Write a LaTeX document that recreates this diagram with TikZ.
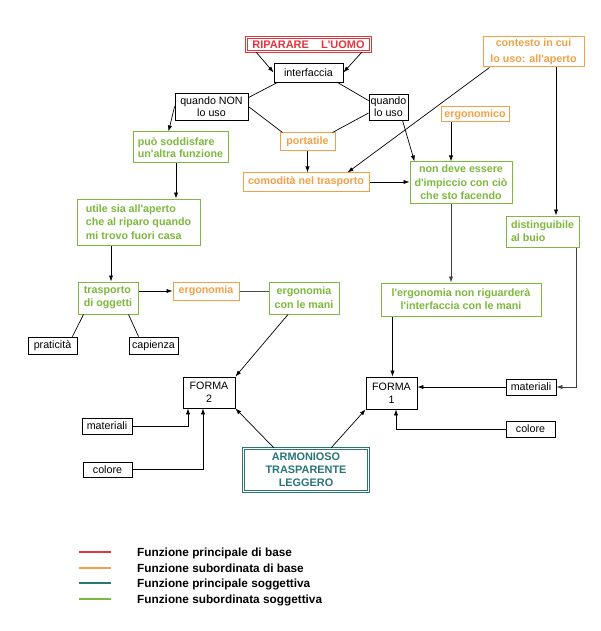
\documentclass[tikz,border=0pt]{standalone}
\usepackage{fontspec}
\setmainfont[Ligatures=TeXOff]{Liberation Sans}
\usetikzlibrary{arrows.meta,calc}
\definecolor{cred}{RGB}{228,52,62}
\definecolor{corange}{RGB}{245,160,70}
\definecolor{cgreen}{RGB}{125,185,60}
\definecolor{cteal}{RGB}{40,118,118}
\begin{document}
\begin{tikzpicture}[x=1pt,y=-1pt,
  bw/.style 2 args={minimum width=#1, minimum height=#2},
  kbox/.style={draw, line width=0.8pt, inner sep=1pt, align=center, font=\fontsize{10.7}{13}\selectfont},
  obox/.style={kbox, draw=corange, text=corange, line width=1pt, font=\fontsize{10.7}{13}\selectfont\bfseries},
  gbox/.style={kbox, draw=cgreen, text=cgreen, line width=1pt, font=\fontsize{10.7}{13}\selectfont\bfseries},
  rbox/.style={draw=cred, text=cred, double=white, double distance=1.4pt, line width=0.6pt, inner sep=1pt, font=\fontsize{11}{13}\selectfont\bfseries},
  tbox/.style={draw=cteal, text=cteal, double=white, double distance=1.4pt, line width=0.6pt, inner sep=1pt, align=center, font=\fontsize{10.9}{13}\selectfont\bfseries},
  ln/.style={line width=0.7pt},
  arr/.style={ln, -{Latex[length=6pt,width=4.2pt]}},
  legtxt/.style={anchor=west, inner sep=0pt, font=\fontsize{11.8}{13}\selectfont\bfseries},
  legline/.style={line width=2.2pt}
]
\useasboundingbox[fill=white] (0,0) rectangle (600,631);

% nodes
\node[rbox, bw={124.4}{14.4}] (rip) at (308.5,44.5) {RIPARARE\hspace{1.1em}L'UOMO};
\node[kbox, bw={69}{19}] (inter) at (308.5,72.5) {interfaccia};
\node[kbox, bw={73}{27}, font=\fontsize{10.7}{12}\selectfont] (qn) at (211.5,106.5) {quando NON\\lo uso};
\node[kbox, bw={39}{26}, font=\fontsize{10.7}{12}\selectfont] (qs) at (388.5,107) {quando\\lo uso};
\node[obox, bw={101}{30}, font=\fontsize{10.7}{16}\selectfont\bfseries] (cont) at (533.5,52) {contesto in cui\\lo uso: all'aperto};
\node[obox, bw={68}{15}] (ergc) at (475,114.5) {ergonomico};
\node[gbox, bw={95}{31}, align=left, font=\fontsize{10.7}{12.3}\selectfont\bfseries] (puo) at (180.5,147.5) {può soddisfare\\un'altra funzione};
\node[obox, bw={55}{18}] (port) at (307.5,142) {portatile};
\node[obox, bw={126}{18}] (com) at (306,182) {comodità nel trasporto};
\node[gbox, bw={102}{41}, font=\fontsize{10.7}{13.5}\selectfont\bfseries] (nond) at (461,182.5) {non deve essere\\d'impiccio con ciò\\che sto facendo};
\node[gbox, bw={73}{31}, align=left] (dist) at (542.5,231.5) {distinguibile\\al buio};
\node[gbox, bw={160}{33}] (lerg) at (461,299.5) {l'ergonomia non riguarderà\\l'interfaccia con le mani};
\node[gbox, bw={123}{46}, align=left, font=\fontsize{10.7}{13.5}\selectfont\bfseries] (utile) at (138.5,222) {utile sia all'aperto\\che al riparo quando\\mi trovo fuori casa};
\node[gbox, bw={60}{32}, align=left] (trasp) at (108,298) {trasporto\\di oggetti};
\node[obox, bw={66}{18}] (ergn) at (206,291) {ergonomia};
\node[gbox, bw={70}{32}, font=\fontsize{10.7}{14}\selectfont\bfseries] (ergm) at (304,298) {ergonomia\\con le mani};
\node[kbox, bw={49}{17}] (prat) at (52.5,345.5) {praticità};
\node[kbox, bw={49}{17}] (cap) at (153.5,345.5) {capienza};
\node[kbox, bw={52}{31}] (f2) at (209,392.5) {FORMA\\2};
\node[kbox, bw={51}{32}] (f1) at (391.5,393) {FORMA\\1};
\node[kbox, bw={50}{16}] (matL) at (107,426) {materiali};
\node[kbox, bw={49}{15}] (colL) at (107.5,469.5) {colore};
\node[kbox, bw={50}{16}] (matR) at (531,387) {materiali};
\node[kbox, bw={49}{16}] (colR) at (530.5,429) {colore};
\node[tbox, bw={125.4}{43.4}] (armo) at (306,470) {ARMONIOSO\\TRASPARENTE\\LEGGERO};

% connectors
\draw[arr] ($(rip.south west)+(10,0)$) -- (inter.west);
\draw[arr] ($(rip.south east)+(-9,0)$) -- (inter.east);
\draw[ln] ($(inter.south west)+(4,0)$) -- ($(qn.north east)+(0,5)$);
\draw[ln] ($(inter.south east)+(-6,0)$) -- ($(qs.north west)+(0,7)$);
\draw[ln] (qn.east) -- ($(port.north west)+(3,0)$);
\draw[ln] ($(qs.west)+(0,6)$) -- ($(port.north east)+(-3,0)$);
\draw[arr] (qn.west) -- ($(puo.north)+(-12,0)$);
\draw[arr] ($(qs.south)+(14,0)$) -- ($(nond.north west)+(5,0)$);
\draw[arr] ($(cont.south west)+(7,0)$) -- ($(com.north east)+(-22,0)$);
\coordinate (cd) at ($(cont.south)+(22.5,0)$);
\draw[arr] (cd) -- (cd |- dist.north);
\coordinate (ed) at ($(ergc.south)+(-24,0)$);
\draw[arr] (ed) -- (ed |- nond.north);
\draw[arr] (port.south) -- (port.south |- com.north);
\draw[arr] (com.east) -- (com.east -| nond.west);
\coordinate (pd) at ($(puo.south)+(-4.5,0)$);
\draw[arr] (pd) -- (pd |- utile.north);
\coordinate (ud) at ($(utile.south)+(-27.5,0)$);
\draw[arr] (ud) -- (ud |- trasp.north);
\coordinate (te) at ($(trasp.east)+(0,-7)$);
\draw[arr] (te) -- (te -| ergn.west);
\draw[ln, black!70] (ergn.east) -- (ergn.east -| ergm.west);
\draw[ln] ($(trasp.south west)+(6,0)$) -- ($(prat.north east)+(-5,0)$);
\draw[ln] ($(trasp.south east)+(-10,0)$) -- ($(cap.north west)+(10,0)$);
\draw[arr] ($(ergm.south)+(-16,0)$) -- (f2.north east);
\coordinate (nd) at ($(nond.south)+(-10,0)$);
\draw[arr, black!75] (nd) -- (nd |- lerg.north);
\coordinate (ld) at ($(lerg.south west)+(12,0)$);
\draw[arr] (ld) -- (ld |- f1.north);
\coordinate (dd) at ($(dist.south east)+(-3,0)$);
\draw[arr, black!75] (dd) |- (matR.east);
\draw[arr] (matR.west) -- (matR.west -| f1.east);
\coordinate (f1b) at ($(f1.south)+(4.5,0)$);
\draw[arr] (colR.west) -| (f1b);
\coordinate (f2a) at ($(f2.south)+(-21,0)$);
\draw[arr] (matL.east) -| (f2a);
\coordinate (f2b) at ($(f2.south)+(-6,0)$);
\draw[arr] (colL.east) -| (f2b);
\draw[arr] ($(armo.north west)+(31,0)$) -- (f2.south east);
\draw[arr] ($(armo.north east)+(-38,0)$) -- (f1.south west);

% legend
\draw[legline, cred] (79,552) -- (111,552);
\draw[legline, corange] (79,568) -- (111,568);
\draw[legline, cteal] (79,583) -- (111,583);
\draw[legline, cgreen] (79,599) -- (111,599);
\node[legtxt] (lg1) at (137,553) {Funzione principale di base};
\node[legtxt] (lg2) at (137,568.5) {Funzione subordinata di base};
\node[legtxt] (lg3) at (137,584) {Funzione principale soggettiva};
\node[legtxt] (lg4) at (137,600) {Funzione subordinata soggettiva};
\end{tikzpicture}
\end{document}
